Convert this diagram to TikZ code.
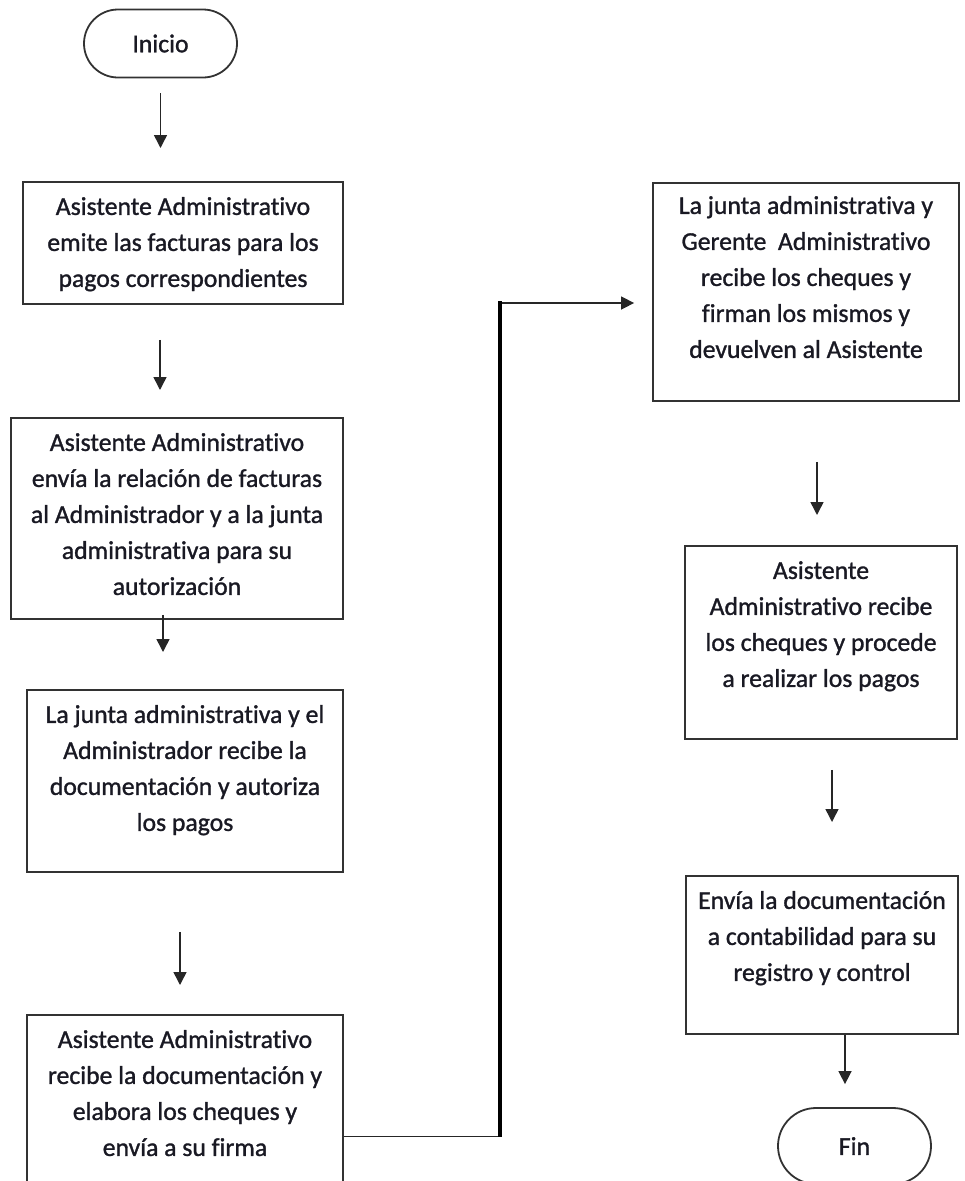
\documentclass[tikz,border=0pt]{standalone}
\usepackage{fontspec}
\setmainfont{Carlito}[FakeBold=1.2,Ligatures=NoCommon]
\usetikzlibrary{arrows.meta,shapes.misc}
\definecolor{texto}{RGB}{25,25,35}
\definecolor{borde}{RGB}{50,50,50}

\begin{document}
\begin{tikzpicture}[x=1pt,y=-1pt,
  paso/.style={draw=borde,line width=1.8pt,align=center,text=texto,
    font=\fontsize{25.7}{36}\selectfont,inner xsep=6pt,inner ysep=0pt,anchor=north},
  term/.style={paso,anchor=center,rounded rectangle,minimum width=165pt,minimum height=68pt},
  flecha/.style={line width=1.5pt,draw=black!85,-{Triangle[length=13pt,width=13pt]}}]
\useasboundingbox (0,0) rectangle (965,1181);
\clip (0,0) rectangle (965,1181);

% columna izquierda
\node[term] (ini) at (160.5,43.5) {Inicio};
\node[paso,minimum width=320pt,text height=105pt,text depth=17pt] (b1) at (183,181)
  {Asistente Administrativo\\emite las facturas para los\\pagos correspondientes};
\node[paso,minimum width=332pt,text height=177pt,text depth=24pt] (b2) at (177,417)
  {Asistente Administrativo\\envía la relación de facturas\\al Administrador y a la junta\\administrativa para su\\autorización};
\node[paso,minimum width=316pt,text height=141pt,text depth=41pt] (b3) at (185,689)
  {La junta administrativa y el\\Administrador recibe la\\documentación y autoriza\\los pagos};
\node[paso,minimum width=316pt,text height=141pt,text depth=50pt] (b4) at (185,1014)
  {Asistente Administrativo\\recibe la documentación y\\elabora los cheques y\\envía a su firma};

% columna derecha
\node[paso,minimum width=306pt,text height=175pt,text depth=43pt] (b5) at (806,182)
  {La junta administrativa y\\Gerente\ \ Administrativo\\recibe los cheques y\\firman los mismos y\\devuelven al Asistente};
\node[paso,minimum width=272pt,text height=141pt,text depth=52pt] (b6) at (821,545)
  {Asistente\\Administrativo recibe\\los cheques y procede\\a realizar los pagos};
\node[paso,minimum width=272pt,text height=105pt,text depth=53pt] (b7) at (822,875)
  {Envía la documentación\\a contabilidad para su\\registro y control};
\node[term,minimum height=76pt] (fin) at (854.5,1146) {Fin};

% flechas
\draw[flecha,shorten <=15pt,shorten >=33pt] (ini.south) -- (ini.south |- b1.north);
\draw[flecha,shorten <=35pt,shorten >=27pt] ([xshift=-23pt]b1.south) -- ([xshift=-23pt]b1.south |- b2.north);
\draw[flecha,shorten <=-5pt,shorten >=37pt] ([xshift=-14pt]b2.south) -- ([xshift=-14pt]b2.south |- b3.north);
\draw[flecha,shorten <=59pt,shorten >=29pt] ([xshift=-5pt]b3.south) -- ([xshift=-5pt]b3.south |- b4.north);
\draw[flecha,shorten <=60pt,shorten >=30pt] ([xshift=11pt]b5.south) -- ([xshift=11pt]b5.south |- b6.north);
\draw[flecha,shorten <=30pt,shorten >=53pt] ([xshift=11pt]b6.south) -- ([xshift=11pt]b6.south |- b7.north);
\draw[flecha,shorten >=23pt] ([xshift=23pt]b7.south) -- ([xshift=23pt]b7.south |- fin.north);

% enlace entre columnas
\coordinate (abajo) at (500,1136.5);
\coordinate (arriba) at (500,303);
\draw[flecha,shorten >=18pt] ([yshift=-122.5pt]b4.north east) -- (abajo) -- (arriba) -- (b5.west |- arriba);
\draw[line width=4pt] (abajo) -- ([yshift=2pt]arriba);
\end{tikzpicture}
\end{document}
